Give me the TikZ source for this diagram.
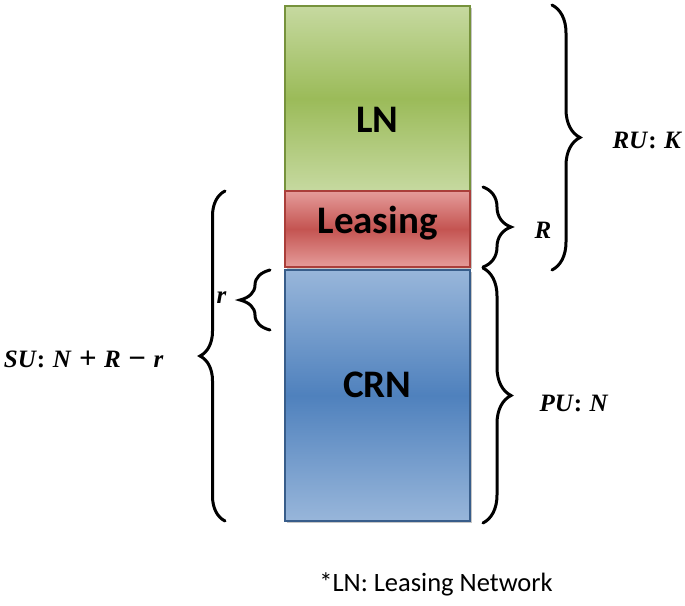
\documentclass[tikz,border=0pt]{standalone}
\usepackage{fontspec}
\setmainfont{Carlito}
\newfontfamily\lblfont{Liberation Serif}
\usetikzlibrary{positioning, decorations.pathreplacing, shadows}

\definecolor{lnlight}{RGB}{198,217,160}
\definecolor{lnmid}{RGB}{155,187,89}
\definecolor{lnedge}{RGB}{118,146,60}
\definecolor{lslight}{RGB}{229,156,154}
\definecolor{lsmid}{RGB}{196,84,81}
\definecolor{lsedge}{RGB}{170,62,58}
\definecolor{crlight}{RGB}{152,182,218}
\definecolor{crmid}{RGB}{79,129,189}
\definecolor{credge}{RGB}{56,93,138}

\newcommand{\vr}[1]{\textit{#1}}
\newcommand{\op}[1]{\hspace{0.3em}\raisebox{-1pt}{\fontsize{31}{31}\selectfont#1}\hspace{0.3em}}

\begin{document}
\begin{tikzpicture}[
    x=1pt, y=-1pt,
    node distance = 0pt,
    layer/.style = {
        rectangle,
        minimum width=185pt,
        inner sep=0pt,
        outer sep=0pt,
        line width=1.4pt,
        drop shadow={shadow xshift=2pt, shadow yshift=-2pt, opacity=0.45}
    },
    boxtext/.style = {font=\fontsize{39}{42}\selectfont\bfseries},
    lnbox/.style = {layer, minimum height=185pt, draw=lnedge,
        top color=lnlight, bottom color=lnlight, middle color=lnmid},
    lsbox/.style = {layer, minimum height=76pt, draw=lsedge,
        top color=lslight, bottom color=lslight, middle color=lsmid},
    crbox/.style = {layer, minimum height=251pt, draw=credge,
        top color=crlight, bottom color=crlight, middle color=crmid},
    brace/.style = {decorate, decoration={brace, amplitude=#1},
        line width=3pt, line cap=round},
    lbl/.style = {font=\lblfont\fontsize{25}{28}\selectfont\bfseries, inner sep=0pt}
]
\useasboundingbox (0,0) rectangle (685,605);

%% Stacked layers
\node[lnbox, label={[boxtext, yshift=-21pt]center:LN}] (ln) at (377.5,98.5) {};
\node[lsbox, below=0pt of ln, label={[boxtext, yshift=6pt]center:Leasing}] (lease) {};
\node[crbox, below=3pt of lease, label={[boxtext, yshift=11pt]center:CRN}] (crn) {};

%% Braces on the left
\draw[brace=25pt] ([xshift=-60pt]crn.south west) -- node[lbl, midway, left=60pt, yshift=-4pt] (su)
    {\vr{SU}:\hspace{0.3em}\vr{N}\op{+}\vr{R}\op{−}\vr{r}} ([xshift=-60pt]lease.north west);
\draw[brace=30pt] ([xshift=-15pt, yshift=-60pt]crn.north west) -- node[lbl, midway, left=42pt, yshift=2pt] (rr)
    {\vr{r}} ([xshift=-15pt]crn.north west);

%% Braces on the right
\draw[brace=28pt] ([xshift=13pt, yshift=4pt]lease.north east) -- node[lbl, midway, right=50pt, yshift=-3pt] (rb)
    {\vr{R}} ([xshift=13pt]lease.south east);
\draw[brace=28pt] ([xshift=82pt, yshift=1pt]ln.north east) -- node[lbl, midway, right=59pt, yshift=-3pt] (ru)
    {\vr{RU}:\hspace{0.3em}\vr{K}} ([xshift=82pt, yshift=-3pt]lease.south east);
\draw[brace=28pt] ([xshift=13pt, yshift=2pt]crn.north east) -- node[lbl, midway, right=55pt, yshift=-8pt] (pu)
    {\vr{PU}:\hspace{0.3em}\vr{N}} ([xshift=13pt, yshift=-2pt]crn.south east);

%% Footnote
\node[font=\fontsize{26.5}{28}\selectfont] (note) at (436,584) {*LN: Leasing Network};

\end{tikzpicture}
\end{document}
